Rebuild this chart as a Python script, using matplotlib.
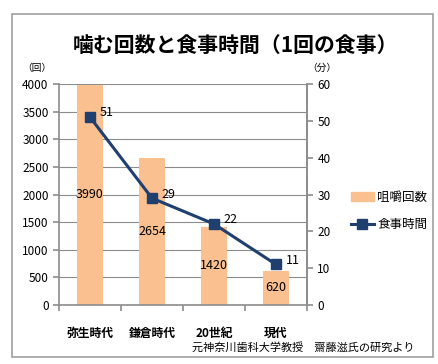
import matplotlib
matplotlib.use("Agg")
import matplotlib.pyplot as plt
from matplotlib.patches import Rectangle
from matplotlib.lines import Line2D
from matplotlib.patches import Patch
import numpy as np

plt.rcParams['font.family'] = ['Noto Sans CJK JP', 'DejaVu Sans']

categories = ["弥生時代", "鎌倉時代", "20世紀", "現代"]
chew_counts = [3990, 2654, 1420, 620]
meal_minutes = [51, 29, 22, 11]

bar_color = "#FAC090"
line_color = "#1F3F6F"
grid_color = "#8C8C8C"

fig = plt.figure(figsize=(4.39, 3.64), dpi=100)
fig.patches.append(Rectangle((12 / 439, 1 - 357 / 364), 421 / 439, 343 / 364,
                             transform=fig.transFigure, fill=False,
                             edgecolor="#A0A0A0", linewidth=1.2))

ax = fig.add_axes([59 / 439, 1 - 305 / 364, 248 / 439, 221 / 364])
x = np.arange(len(categories))
ax.bar(x, chew_counts, width=0.42, color=bar_color, zorder=2)
ax.set_xlim(-0.5, len(categories) - 0.5)
ax.set_ylim(0, 4000)
ax.set_yticks(range(0, 4001, 500))
ax.yaxis.grid(True, color=grid_color, linewidth=0.8, zorder=0)
ax.set_axisbelow(True)
ax.spines["top"].set_visible(False)
for s in ["left", "bottom", "right"]:
    ax.spines[s].set_color(grid_color)
    ax.spines[s].set_linewidth(1.2)
ax.tick_params(axis="y", labelsize=8.5, color=grid_color, length=4, width=1.2)
ax.set_xticks(x)
ax.set_xticklabels(categories, fontsize=8.5, fontweight="bold")
ax.tick_params(axis="x", which="major", length=0, pad=16)
ax.set_xticks(np.arange(-0.5, len(categories)), minor=True)
ax.tick_params(axis="x", which="minor", length=4, width=1.2, color=grid_color)

for xi, v in zip(x, chew_counts):
    ax.text(xi, v / 2, str(v), ha="center", va="center", fontsize=9)

ax2 = ax.twinx()
ax2.plot(x, meal_minutes, color=line_color, linewidth=2.2, marker="s",
         markersize=7, zorder=3)
ax2.set_ylim(0, 60)
ax2.set_yticks(range(0, 61, 10))
ax2.tick_params(axis="y", labelsize=8.5, color=grid_color, length=4, width=1.2)
for s in ["top", "left", "bottom"]:
    ax2.spines[s].set_visible(False)
ax2.spines["right"].set_color(grid_color)
ax2.spines["right"].set_linewidth(1.2)
for xi, v in zip(x, meal_minutes):
    ax2.annotate(str(v), (xi, v), xytext=(7, 3), textcoords="offset points",
                 ha="left", va="center", fontsize=9)

fig.text(236 / 439, 1 - 45 / 364, "噛む回数と食事時間（1回の食事）",
         ha="center", va="center", fontsize=15, fontweight="bold")
fig.text(37 / 439, 1 - 68 / 364, "（回）", ha="center", va="center", fontsize=7)
fig.text(322 / 439, 1 - 68 / 364, "（分）", ha="center", va="center", fontsize=7)
fig.text(415 / 439, 1 - 347 / 364, "元神奈川歯科大学教授　齋藤滋氏の研究より",
         ha="right", va="center", fontsize=8)

handles = [Patch(color=bar_color),
           Line2D([0], [0], color=line_color, linewidth=2.2, marker="s", markersize=7)]
fig.legend(handles, ["咀嚼回数", "食事時間"], loc="center left",
           bbox_to_anchor=(340 / 439, 1 - 211 / 364), frameon=False,
           fontsize=9, handlelength=1.8, labelspacing=1.1, handletextpad=0.3)

fig.savefig("out.png", dpi=100)
